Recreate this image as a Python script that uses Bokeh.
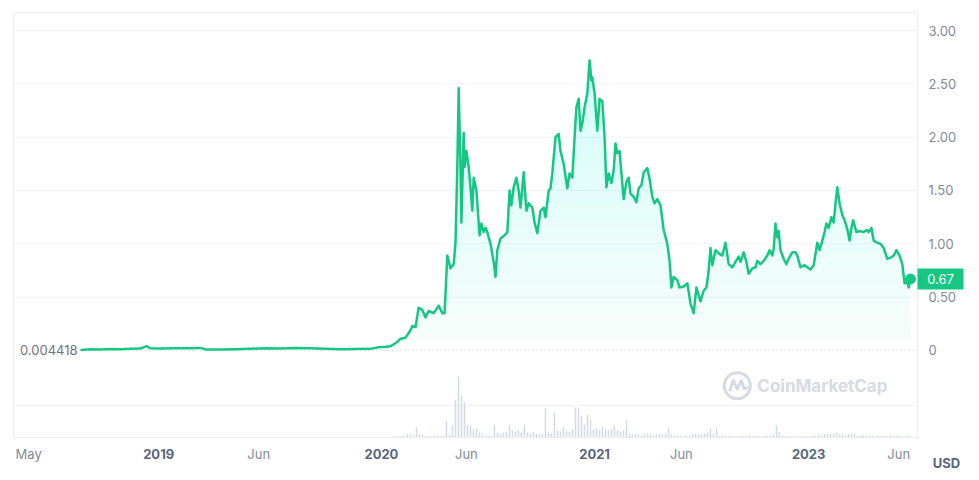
import numpy as np
from bokeh.plotting import figure
from bokeh.models import Range1d
from bokeh.core.properties import value
from bokeh.embed import file_html
from bokeh.resources import INLINE

# ---------------- data ----------------
# price series: day offset from first listed price, USD
day_early = [0, 22, 44, 66, 88, 110, 132, 145, 154, 176, 209, 242, 264, 275, 308, 341, 374,
             407, 440, 473, 506, 539, 572, 605, 638, 656, 671, 682]
price_early = [0.004418, 0.012, 0.010, 0.014, 0.012, 0.015, 0.018, 0.040, 0.020, 0.018, 0.022,
               0.020, 0.024, 0.010, 0.008, 0.012, 0.016, 0.020, 0.018, 0.024, 0.020, 0.016,
               0.012, 0.014, 0.015, 0.030, 0.035, 0.040]

day_2020 = [697, 704, 715, 726, 730, 737, 744, 752, 759, 766, 777, 788, 796, 801, 807, 814, 821,
            825, 829, 832, 836, 838, 843, 845, 849, 854, 858, 862, 865, 871, 873, 878, 882, 887,
            891, 895, 902, 909, 913, 917, 924]
price_2020 = [0.08, 0.11, 0.12, 0.19, 0.23, 0.22, 0.40, 0.38, 0.31, 0.37, 0.35, 0.42, 0.35, 0.35,
              0.89, 0.77, 0.81, 1.01, 1.72, 2.46, 1.72, 1.20, 2.04, 1.72, 1.87, 1.72, 1.53, 1.31,
              1.62, 1.50, 1.38, 1.08, 1.19, 1.11, 1.15, 1.11, 1.00, 0.83, 0.69, 0.94, 1.05]

day_2021a = [933, 939, 944, 948, 953, 959, 964, 968, 975, 981, 986, 994, 999, 1005, 1012, 1019,
             1023, 1030, 1034, 1038, 1045, 1052, 1056, 1063, 1071, 1076, 1082, 1087, 1091, 1096,
             1100, 1104, 1109, 1115, 1120, 1124, 1126, 1131, 1137, 1142, 1146, 1148]
price_2021a = [1.08, 1.11, 1.50, 1.36, 1.53, 1.62, 1.50, 1.34, 1.67, 1.31, 1.38, 1.34, 1.20, 1.10,
               1.31, 1.34, 1.25, 1.50, 1.52, 1.66, 2.00, 2.03, 1.87, 1.75, 1.52, 1.66, 1.62, 2.00,
               2.28, 2.36, 2.06, 2.13, 2.28, 2.41, 2.72, 2.53, 2.56, 2.41, 2.06, 2.36, 2.34, 2.34]

day_2021b = [1153, 1157, 1162, 1168, 1173, 1177, 1181, 1186, 1190, 1195, 1201, 1206, 1210, 1217,
             1223, 1228, 1234, 1239, 1247, 1252, 1258, 1263, 1269, 1276, 1283, 1291, 1296, 1300,
             1305, 1313, 1318, 1327, 1335, 1342, 1349, 1355, 1364]
price_2021b = [2.00, 1.53, 1.66, 1.57, 1.69, 1.94, 1.85, 1.87, 1.66, 1.42, 1.58, 1.62, 1.47, 1.44,
               1.39, 1.52, 1.55, 1.67, 1.71, 1.61, 1.44, 1.38, 1.42, 1.36, 1.13, 1.00, 0.84, 0.59,
               0.69, 0.66, 0.59, 0.60, 0.63, 0.44, 0.35, 0.59, 0.46]

day_late = [1371, 1377, 1382, 1386, 1390, 1397, 1404, 1412, 1419, 1426, 1434, 1441, 1448, 1452,
            1459, 1465, 1470, 1478, 1485, 1489, 1496, 1503, 1511, 1516, 1522, 1525, 1529, 1533,
            1536, 1540, 1547, 1553, 1558, 1566, 1573, 1577, 1584, 1593, 1599, 1606, 1613, 1621,
            1626, 1632, 1637, 1641, 1646, 1652, 1657, 1661, 1665, 1670, 1676, 1681, 1687, 1692,
            1696, 1700, 1707, 1714, 1723, 1729, 1734, 1740, 1745, 1753, 1760, 1767, 1775, 1782,
            1789, 1795, 1802, 1808, 1813, 1819, 1822, 1826]
price_late = [0.56, 0.59, 0.75, 0.96, 0.80, 0.94, 0.91, 0.89, 1.01, 0.81, 0.78, 0.83, 0.88, 0.83,
              0.92, 0.83, 0.72, 0.77, 0.78, 0.84, 0.81, 0.84, 0.89, 0.94, 0.89, 0.95, 1.19, 1.06,
              1.12, 0.94, 0.86, 0.81, 0.86, 0.92, 0.92, 0.89, 0.78, 0.80, 0.78, 0.76, 0.80, 1.01,
              0.94, 1.03, 1.11, 1.19, 1.15, 1.25, 1.20, 1.38, 1.53, 1.38, 1.27, 1.22, 1.14, 1.03,
              1.15, 1.22, 1.11, 1.12, 1.11, 1.13, 1.11, 1.15, 1.03, 1.01, 1.00, 0.96, 0.86, 0.87,
              0.89, 0.94, 0.89, 0.81, 0.63, 0.64, 0.59, 0.67]

# trading volume (million USD), one bar per sample from day 693, every 6.6 days
vol_start_day = 693
vol_step_days = 6.6
volume = [2, 2, 2, 3, 5, 5, 3, 16, 5, 5, 2, 2, 2, 2, 3, 2, 3, 25, 5, 19, 59, 95, 66, 55, 20, 19,
          13, 14, 8, 5, 3, 3, 2, 19, 8, 6, 8, 9, 19, 11, 9, 11, 8, 20, 8, 6, 8, 6, 5, 5, 45, 8,
          6, 39, 11, 9, 16, 11, 9, 13, 47, 47, 34, 20, 36, 28, 13, 14, 11, 16, 13, 11, 14, 19,
          11, 9, 11, 27, 5, 5, 5, 5, 3, 5, 5, 5, 3, 5, 5, 5, 6, 16, 5, 3, 3, 3, 2, 3, 3, 5, 6,
          6, 5, 6, 8, 14, 6, 14, 3, 3, 2, 2, 3, 2, 2, 3, 2, 2, 3, 2, 2, 3, 2, 3, 2, 3, 5, 19, 9,
          3, 2, 2, 2, 2, 2, 2, 2, 2, 2, 3, 2, 5, 3, 5, 5, 6, 5, 8, 5, 5, 3, 5, 6, 5, 3, 3, 3, 2,
          3, 3, 2, 3, 3, 2, 2, 3, 2, 3, 3, 2, 3, 3]

# axis ticks
price_ticks = [0, 0.5, 1.0, 1.5, 2.0, 2.5, 3.0]
price_tick_labels = ["0", "0.50", "1.00", "1.50", "2.00", "2.50", "3.00"]
month_tick_days = [-114, 392, 849, 1322, 1800]
month_tick_labels = ["May", "Jun", "Jun", "Jun", "Jun"]
year_tick_days = [172, 662, 1131, 1602]
year_tick_labels = ["2019", "2020", "2021", "2023"]
volume_grid = [50]

# ---------------- layout / styling ----------------
GREEN = "#16c784"
GRID = "#eff2f5"
GREY = "#808a9d"
DARK = "#58667e"
FONT = value("Inter")

W, H = 975, 476                      # canvas (frame covers it all)
BOX_L, BOX_R, BOX_T, BOX_B = 13, 917, 12, 437   # chart box in canvas px
X0, X1 = -147.4, 1841.4              # chart box in days
Y0, Y1 = -0.816, 3.169               # chart box in USD
VOL_PER_PX = 50 / 32                 # volume panel scale

dpp = (X1 - X0) / (BOX_R - BOX_L)    # days per px
ppp = (Y1 - Y0) / (BOX_B - BOX_T)    # USD per px

x_rng = Range1d(X0 - BOX_L * dpp, X1 + (W - BOX_R) * dpp)
y_rng = Range1d(Y0 - (H - BOX_B) * ppp, Y1 + BOX_T * ppp)
vol_rng = Range1d(-(H - BOX_B) * VOL_PER_PX, BOX_B * VOL_PER_PX)

t = np.array(day_early + day_2020 + day_2021a + day_2021b + day_late, dtype=float)
pr = np.array(price_early + price_2020 + price_2021a + price_2021b + price_late, dtype=float)

p = figure(width=W, height=H, output_backend="svg", toolbar_location=None,
           x_range=x_rng, y_range=y_rng, x_axis_location=None, y_axis_location=None,
           min_border=0, background_fill_color="white", border_fill_color="white",
           outline_line_color=None)
p.grid.visible = False
p.extra_y_ranges = {"vol": vol_rng}

# grid lines
gy = [v for v in price_ticks if v > 0]
p.segment(x0=[X0] * len(gy), x1=[X1] * len(gy), y0=gy, y1=gy, line_color=GRID, line_width=1)
p.segment(x0=[X0] * len(volume_grid), x1=[X1] * len(volume_grid), y0=volume_grid,
          y1=volume_grid, line_color=GRID, line_width=1, y_range_name="vol")
p.segment(x0=[t[0]], x1=[X1], y0=[0], y1=[0], line_color="#c5cad4", line_dash="1 3",
          line_width=1)

# volume bars
vol_x = vol_start_day + vol_step_days * np.arange(len(volume))
p.vbar(x=vol_x, top=volume, bottom=0, width=3.4, y_range_name="vol",
       fill_color="#d3d9e5", line_color=None)

# gradient area under the price line (stacked translucent layers)
base = 0.08
levels = np.linspace(base, pr.max(), 36)
prev = 0.0
for lv in levels:
    target = 0.035 + 0.065 * lv
    a = 1 - (1 - target) / (1 - prev)
    prev = target
    p.varea(x=t, y1=np.full_like(pr, lv), y2=np.maximum(pr, lv), fill_color=GREEN,
            fill_alpha=a)

p.line(t, pr, line_color=GREEN, line_width=2.5, line_join="round")
p.scatter([t[-1]], [pr[-1]], size=10, color=GREEN)

# chart box border
p.quad(left=[X0], right=[X1], bottom=[Y0], top=[Y1], fill_color=None,
       line_color="#e9ecf1", line_width=1)

# price axis labels (right)
p.text(x=[X1] * len(price_ticks), y=price_ticks, text=price_tick_labels, x_offset=11,
       text_align="left", text_baseline="middle", text_font=FONT, text_font_size="13px",
       text_color=GREY)

# time axis labels (below)
p.text(x=month_tick_days, y=[Y0] * len(month_tick_days), text=month_tick_labels,
       y_offset=16, text_align="center", text_baseline="middle", text_font=FONT,
       text_font_size="13px", text_color=GREY)
p.text(x=year_tick_days, y=[Y0] * len(year_tick_days), text=year_tick_labels,
       y_offset=16, text_align="center", text_baseline="middle", text_font=FONT,
       text_font_size="13px", text_font_style="bold", text_color=DARK)
p.text(x=[X1], y=[Y0], text=["USD"], x_offset=29, y_offset=25, text_align="center",
       text_baseline="middle", text_font=FONT, text_font_size="13px",
       text_font_style="bold", text_color=DARK)

# first price label
p.text(x=[t[0]], y=[pr[0]], text=[f"{pr[0]:g}"], x_offset=-3, text_align="right",
       text_baseline="middle", text_font=FONT, text_font_size="13px", text_color="#6b7588")

# current price tag
p.quad(left=[X1], right=[X1 + 46 * dpp], bottom=[pr[-1] - 10.5 * ppp],
       top=[pr[-1] + 10.5 * ppp], fill_color=GREEN, line_color=None)
p.text(x=[X1], y=[pr[-1]], text=[f"{pr[-1]:.2f}"], x_offset=23, text_align="center",
       text_baseline="middle", text_font=FONT, text_font_size="13px", text_color="white")

# watermark
WM = "#d6dae2"
wx, wy = 1445, -0.33
p.scatter([wx], [wy], size=26, marker="circle", fill_color=None, line_color=WM, line_width=3)
p.line([wx - 17, wx - 9, wx, wx + 9, wx + 15, wx + 24],
       [wy - 0.05, wy + 0.05, wy - 0.03, wy + 0.05, wy - 0.03, wy - 0.01],
       line_color=WM, line_width=3, line_join="round")
p.text(x=[wx + 44], y=[wy], text=["CoinMarketCap"], text_align="left",
       text_baseline="middle", text_font=FONT, text_font_size="17px",
       text_font_style="bold", text_color=WM)

open("out.html", "w").write(file_html(p, INLINE))
